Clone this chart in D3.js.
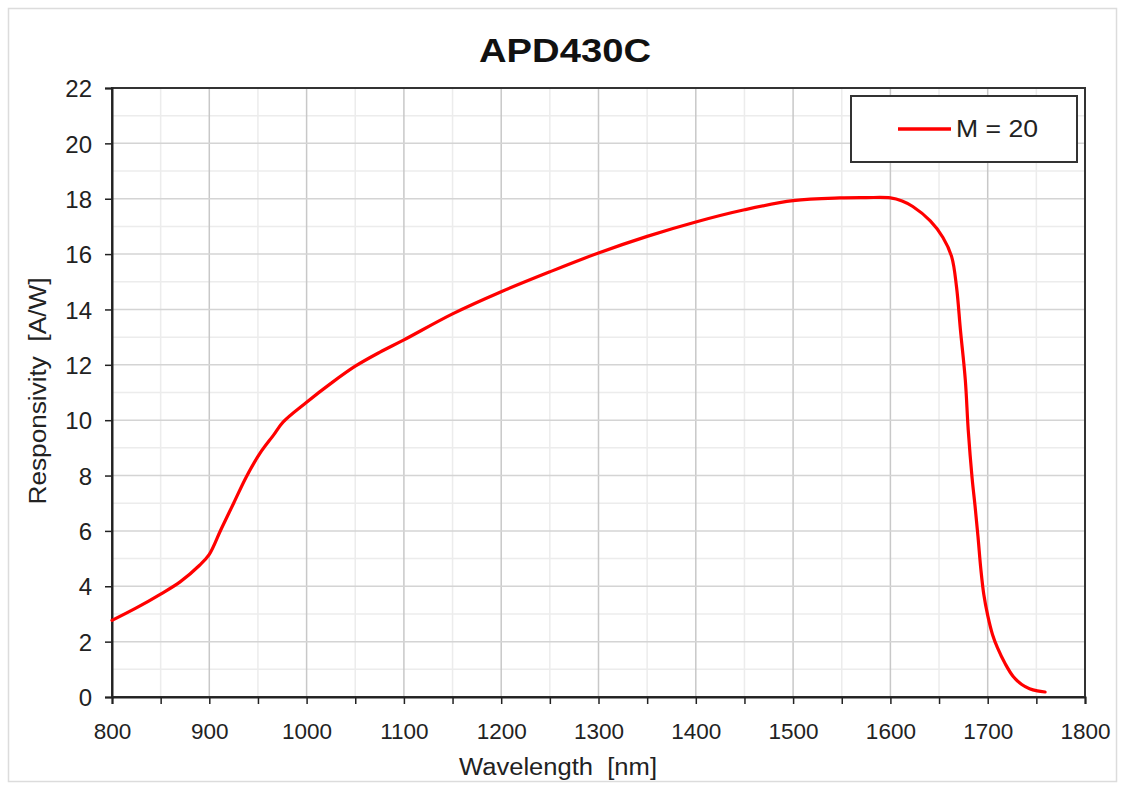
<!DOCTYPE html>
<html>
<head>
<meta charset="utf-8">
<script src="https://cdn.jsdelivr.net/npm/d3@7"></script>
<style>
  html, body { margin: 0; padding: 0; background: #fff; }
  svg { display: block; font-family: "Liberation Sans", Arial, sans-serif; }
  text { white-space: pre; }
</style>
</head>
<body>
<svg id="chart" width="1122" height="785"></svg>
<script>
// Data
const wavelength = [800, 825, 850, 870, 890, 900, 912, 925, 938, 952, 966, 976, 1000, 1025, 1050, 1075, 1100, 1150, 1200, 1250, 1300, 1350, 1400, 1450, 1500, 1548, 1575, 1600, 1612, 1623, 1641, 1654, 1663, 1668, 1672, 1677, 1680, 1684, 1687, 1690, 1693, 1696, 1700, 1705, 1710, 1718, 1726, 1735, 1743, 1751, 1759];
const responsivity = [2.77, 3.22, 3.72, 4.16, 4.76, 5.15, 6.05, 7.0, 7.95, 8.8, 9.46, 9.94, 10.65, 11.33, 11.95, 12.45, 12.9, 13.84, 14.64, 15.36, 16.04, 16.64, 17.16, 17.6, 17.93, 18.03, 18.04, 18.03, 17.92, 17.72, 17.2, 16.6, 15.9, 14.8, 13.25, 11.45, 9.64, 7.9, 6.9, 5.8, 4.6, 3.7, 2.95, 2.25, 1.78, 1.2, 0.75, 0.45, 0.3, 0.22, 0.18];
const seriesName = "M = 20";
const xTicks = [800, 900, 1000, 1100, 1200, 1300, 1400, 1500, 1600, 1700, 1800];
const yTicks = [0, 2, 4, 6, 8, 10, 12, 14, 16, 18, 20, 22];
const title = "APD430C";
const xLabel = "Wavelength  [nm]";
const yLabel = "Responsivity  [A/W]";

const svg = d3.select("#chart");
const L = 112, R = 1085, T = 88, B = 697;

// outer border
svg.append("rect").attr("x", 8.5).attr("y", 8.5).attr("width", 1108).attr("height", 773)
  .attr("fill", "#fff").attr("stroke", "#dcdcdc").attr("stroke-width", 1.5);

const x = d3.scaleLinear().domain([800, 1800]).range([L, R]);
const y = d3.scaleLinear().domain([0, 22]).range([B, T]);

// minor grid
const xMinor = d3.range(850, 1800, 100);
const yMinor = d3.range(1, 22, 2);
const g = svg.append("g");
g.selectAll(".xm").data(xMinor).join("line")
  .attr("x1", d => x(d)).attr("x2", d => x(d)).attr("y1", T).attr("y2", B)
  .attr("stroke", "#ececec").attr("stroke-width", 1.5);
g.selectAll(".ym").data(yMinor).join("line")
  .attr("y1", d => y(d)).attr("y2", d => y(d)).attr("x1", L).attr("x2", R)
  .attr("stroke", "#ececec").attr("stroke-width", 1.5);
// major grid
g.selectAll(".xM").data(xTicks.slice(1, -1)).join("line")
  .attr("x1", d => x(d)).attr("x2", d => x(d)).attr("y1", T).attr("y2", B)
  .attr("stroke", "#c8c8c8").attr("stroke-width", 1.5);
g.selectAll(".yM").data(yTicks.slice(1, -1)).join("line")
  .attr("y1", d => y(d)).attr("y2", d => y(d)).attr("x1", L).attr("x2", R)
  .attr("stroke", "#d4d4d4").attr("stroke-width", 1.5);

// frame
svg.append("rect").attr("x", L).attr("y", T).attr("width", R - L).attr("height", B - T)
  .attr("fill", "none").attr("stroke", "#333").attr("stroke-width", 2);

// axes
const xAxis = d3.axisBottom(x).tickValues(d3.range(800, 1801, 50)).tickSize(7).tickPadding(19)
  .tickFormat(d => xTicks.includes(d) ? d : "");
const xg = svg.append("g").attr("transform", `translate(0,${B})`).call(xAxis);
xg.select(".domain").attr("stroke", "#222").attr("stroke-width", 2);
xg.selectAll(".tick line").attr("stroke", "#222").attr("stroke-width", 1.5);
xg.selectAll("text").attr("font-size", 22.5).attr("fill", "#222").attr("dy", "0.71em")
  .attr("font-family", "'Liberation Sans', Arial, sans-serif");

const yAxis = d3.axisLeft(y).tickValues(yTicks).tickSize(7).tickPadding(13);
const yg = svg.append("g").attr("transform", `translate(${L},0)`).call(yAxis);
yg.select(".domain").attr("stroke", "#222").attr("stroke-width", 2);
yg.selectAll(".tick line").attr("stroke", "#222").attr("stroke-width", 1.5);
yg.selectAll("text").attr("font-size", 24).attr("fill", "#222").attr("dy", "0.36em")
  .attr("font-family", "'Liberation Sans', Arial, sans-serif");

// line
const line = d3.line().x((d, i) => x(wavelength[i])).y(d => y(d)).curve(d3.curveCatmullRom.alpha(0.5));
svg.append("path").datum(responsivity).attr("d", line)
  .attr("fill", "none").attr("stroke", "#ff0000").attr("stroke-width", 3.2)
  .attr("stroke-linejoin", "round").attr("stroke-linecap", "round");

// title
svg.append("text").attr("x", 565).attr("y", 62).attr("text-anchor", "middle")
  .attr("font-size", 33).attr("font-weight", "bold").attr("fill", "#111")
  .attr("textLength", 172).attr("lengthAdjust", "spacingAndGlyphs").text(title);

// axis labels
svg.append("text").attr("x", 558).attr("y", 775).attr("text-anchor", "middle")
  .attr("font-size", 23).attr("fill", "#222")
  .attr("textLength", 198).attr("lengthAdjust", "spacingAndGlyphs").text(xLabel);
svg.append("text").attr("transform", "translate(46,391) rotate(-90)").attr("text-anchor", "middle")
  .attr("font-size", 23).attr("fill", "#222")
  .attr("textLength", 227).attr("lengthAdjust", "spacingAndGlyphs").text(yLabel);

// legend
const lg = svg.append("g");
lg.append("rect").attr("x", 851).attr("y", 96).attr("width", 226).attr("height", 66)
  .attr("fill", "#fff").attr("stroke", "#333").attr("stroke-width", 2);
lg.append("line").attr("x1", 898).attr("x2", 951).attr("y1", 129).attr("y2", 129)
  .attr("stroke", "#ff0000").attr("stroke-width", 3.5);
lg.append("text").attr("x", 956).attr("y", 137).attr("font-size", 23).attr("fill", "#222")
  .attr("textLength", 82).attr("lengthAdjust", "spacingAndGlyphs").text(seriesName);
</script>
</body>
</html>
